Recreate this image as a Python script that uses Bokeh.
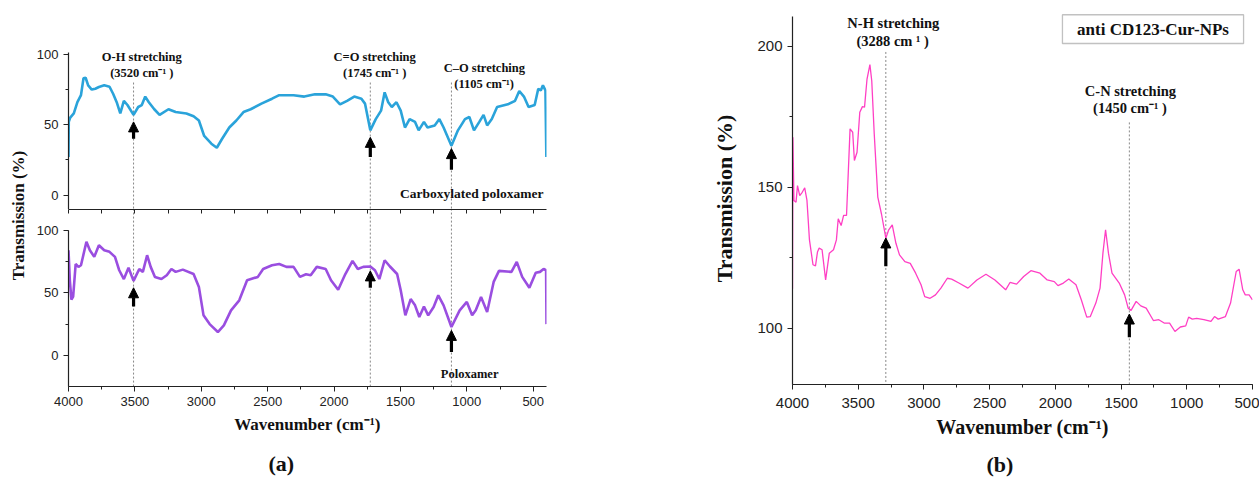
from math import pi
from bokeh.plotting import figure
from bokeh.layouts import row, column
from bokeh.models import (Range1d, LinearAxis, SingleIntervalTicker, FixedTicker, Arrow, NormalHead,
                          Label, BoxAnnotation, Title)
from bokeh.core.properties import value
from bokeh.embed import file_html
from bokeh.resources import INLINE

SERIF = "Liberation Serif"
SANS = "Liberation Sans"

# ---------------- data ----------------
carb_wn = [4000, 3998, 3987, 3960, 3933, 3906, 3887, 3871, 3852, 3825, 3798, 3771, 3731, 3691, 3664,
           3637, 3610, 3583, 3556, 3510, 3475, 3448, 3422, 3395, 3354, 3314, 3247, 3193, 3112, 3058,
           3018, 2978, 2924, 2883, 2843, 2789, 2736, 2682, 2628, 2547, 2467, 2413, 2359, 2305, 2224,
           2144, 2063, 2009, 1955, 1902, 1848, 1794, 1767, 1727, 1686, 1646, 1619, 1592, 1565, 1530,
           1498, 1466, 1431, 1390, 1363, 1323, 1296, 1242, 1207, 1175, 1116, 1067, 1014, 981, 946,
           906, 874, 847, 812, 772, 691, 637, 605, 570, 535, 489, 462, 443, 427, 408, 401]
carb_tr = [27, 52, 55, 58, 66, 71, 83, 83.4, 78, 75, 75.6, 76.8, 78, 77, 72,
           66, 58, 67, 64, 57, 62.6, 64, 70, 66, 61, 57, 61, 59, 58, 56,
           53, 42, 36.5, 33.6, 40, 48, 53, 59, 61, 65, 68.5, 71, 71, 71, 70,
           71.6, 71.6, 70, 64.5, 67, 70, 68.5, 65, 46, 54, 60, 73, 66, 62.6, 66,
           60, 48, 54, 52, 46, 52, 48, 49.5, 54, 48, 35, 46, 54, 55.5, 46,
           52, 57, 49.5, 54, 62.6, 64.5, 67, 74, 70, 62.6, 64, 75.6, 74.4, 78, 74.4, 27]

polo_wn = [4000, 3990, 3978, 3965, 3946, 3925, 3906, 3865, 3839, 3806, 3771, 3731, 3691, 3650, 3618,
           3583, 3548, 3510, 3467, 3440, 3408, 3381, 3349, 3300, 3260, 3225, 3193, 3139, 3058, 3018,
           2983, 2937, 2875, 2830, 2776, 2714, 2655, 2574, 2534, 2467, 2413, 2359, 2305, 2257, 2211,
           2176, 2130, 2063, 2023, 1969, 1915, 1861, 1821, 1780, 1727, 1692, 1659, 1619, 1579, 1525,
           1498, 1463, 1423, 1390, 1358, 1323, 1291, 1250, 1215, 1175, 1116, 1054, 1000, 960, 933,
           893, 847, 798, 758, 664, 624, 583, 529, 481, 449, 422, 403, 400]
polo_tr = [84, 60, 44.5, 47, 73, 70.7, 72, 90.7, 84, 78.7, 88, 84, 82.7, 78.7, 68,
           61, 70, 59.5, 69, 66.7, 80, 70.7, 62.7, 61, 64, 69, 66.7, 68.5, 65, 54.7,
           32, 25, 18.7, 24, 36, 44, 60, 62.7, 69, 72, 73, 70.7, 70.7, 62.7, 64.8,
           64, 70.7, 69, 60, 52.5, 65, 75.5, 69, 70.7, 71, 68, 61, 76, 71, 65,
           52, 32, 45, 40, 30.7, 39, 32, 38.7, 48, 40, 22.7, 36, 42.7, 32, 36,
           46.7, 34.7, 58.7, 67.5, 66.7, 74.7, 62.7, 54, 66, 66.7, 69, 68, 25]

np_wn = [4000, 3997, 3989, 3973, 3962, 3945, 3926, 3907, 3890, 3880, 3871, 3844, 3825, 3810, 3797,
         3775, 3748, 3720, 3688, 3666, 3652, 3630, 3611, 3589, 3562, 3542, 3529, 3509, 3488, 3468,
         3452, 3433, 3411, 3397, 3378, 3351, 3323, 3296, 3290, 3268, 3241, 3213, 3186, 3145, 3104,
         3063, 3022, 2994, 2953, 2912, 2871, 2822, 2789, 2734, 2665, 2597, 2528, 2460, 2378, 2345,
         2295, 2241, 2186, 2117, 2062, 2008, 1980, 1939, 1898, 1843, 1802, 1761, 1734, 1692, 1660,
         1638, 1618, 1596, 1569, 1514, 1473, 1446, 1424, 1385, 1350, 1309, 1254, 1213, 1172, 1131,
         1090, 1049, 1008, 986, 958, 925, 870, 816, 789, 761, 706, 667, 624, 602, 574,
         555, 526, 500]
np_tr = [114, 167.7, 145.3, 144.7, 150.6, 147, 148.2, 149.8, 145.3, 138, 131.3, 122.5, 122.1, 127, 128.4,
         127.8, 117.1, 126.6, 127.8, 131.3, 138.8, 136.4, 140, 140, 170.7, 169.5, 159.5, 162.4, 176.6, 178.6,
         178.4, 188.4, 193.5, 187.8, 168.9, 146.5, 140.5, 133.5, 131.9, 134.9, 136.6, 130.1, 126, 123.6, 123,
         119.5, 115.4, 111.2, 110.6, 111.8, 114.2, 117.7, 117.4, 116, 114.2, 117.1, 119.1, 117.1, 113.6, 116.2,
         115.6, 118.3, 120.4, 119.5, 117.1, 116.5, 115.1, 116, 117.4, 115.4, 110, 103.9, 104.1, 108.9, 114.2,
         126.6, 134.9, 126.6, 119.5, 116, 111.8, 107.1, 106.3, 109.5, 107.9, 107.1, 102.7, 103, 101.8, 101.8,
         98.8, 100.4, 100.8, 103.9, 103.2, 103.5, 103, 102.4, 104.1, 103.2, 104.1, 108.9, 120.1, 120.9, 113.6,
         111.8, 111.8, 110]

# marker lines / arrows, panel (a)
a_mark_wn = [3510, 1727, 1116]
a_top_arrow_tip = [52, 41, 33]
a_top_arrow_tail = [40, 27, 18]
a_bot_arrow_tip = [54, 67.5, 20]
a_bot_arrow_tail = [39, 54, 2.7]
a_line_top = 80

a_label_text = ["O-H stretching", "(3520 cm\u207b\u00b9 )", "C=O stretching", "(1745 cm\u207b\u00b9 )",
                "C\u2013O stretching", "(1105 cm\u207b\u00b9)"]
a_label_wn = [3448, 3448, 1694, 1694, 868, 870]
a_label_tr = [98, 86.7, 98, 86.7, 90.3, 79]

# divider tick positions between the two stacked spectra
divider_ticks = [500, 750, 1000, 1250, 1500, 1750, 2000, 2250, 2500, 2750, 3000, 3250, 3500, 3750, 4000]

# panel (b)
b_mark_wn = [3290, 1437]
b_line_top = [198, 173]
b_arrow_tip = [132, 105]
b_arrow_tail = [122, 96.8]
b_label_text = ["N-H stretching", "(3288 cm \u00b9 )", "C-N stretching", "(1450 cm\u207b\u00b9 )"]
b_label_wn = [3233, 3238, 1429, 1432]
b_label_tr = [208.2, 201.8, 184.3, 178.2]

BLUE = "#2aa3da"
PURPLE = "#9a4ee0"
PINK = "#ff3fc4"
AXC = "#222222"


def style_axis(ax, size):
    ax.major_label_text_font = SANS
    ax.major_label_text_font_size = size
    ax.major_label_text_color = AXC
    ax.axis_line_color = AXC
    ax.axis_line_width = 1.2
    ax.major_tick_line_color = AXC
    ax.minor_tick_line_color = AXC
    ax.major_tick_out = 5
    ax.major_tick_in = 0
    ax.minor_tick_out = 3
    ax.minor_tick_in = 0
    ax.major_label_standoff = 5
    ax.axis_label_text_font = SERIF
    ax.axis_label_text_font_style = "bold"
    ax.axis_label_text_color = "#111111"


def base_fig(**kw):
    p = figure(output_backend="svg", toolbar_location=None, title=None, **kw)
    p.grid.visible = False
    p.outline_line_color = None
    p.background_fill_color = "white"
    p.border_fill_color = "white"
    return p


def add_arrows(p, xs, tails, tips):
    for x, t0, t1 in zip(xs, tails, tips):
        p.add_layout(Arrow(end=NormalHead(size=10, fill_color="black", line_color="black", line_width=1),
                           x_start=x, y_start=t0, x_end=x, y_end=t1,
                           line_color="black", line_width=3.2))


# ---------------- panel (a) ----------------
xr_a = Range1d(4000, 400)

ylab = base_fig(width=30, height=490, x_range=Range1d(0, 30), y_range=Range1d(490, 0),
                x_axis_location=None, y_axis_location=None, min_border=0)
ylab.add_layout(Label(x=18, y=215, text="Transmission (%)", angle=pi / 2, text_align="center",
                      text_baseline="middle", text_font=SERIF, text_font_style="bold",
                      text_font_size="17px", text_color="#111111"))

top = base_fig(width=530, height=209, x_range=xr_a, y_range=Range1d(-10.3, 117),
               x_axis_location=None, min_border_left=38, min_border_right=14,
               min_border_top=30, min_border_bottom=0)
top.yaxis.ticker = SingleIntervalTicker(interval=50, num_minor_ticks=2)
top.yaxis.bounds = (-10.3, 101)
style_axis(top.yaxis[0], "13px")
top.segment(x0=a_mark_wn, y0=[a_line_top] * 3, x1=a_mark_wn, y1=[-20] * 3,
            line_color="#888888", line_dash="2 2", line_width=1)
top.line(carb_wn, carb_tr, line_color=BLUE, line_width=2.6)
add_arrows(top, a_mark_wn, a_top_arrow_tail, a_top_arrow_tip)
top.text(x=a_label_wn, y=a_label_tr, text=a_label_text, text_font=value(SERIF),
         text_font_style="bold", text_font_size="12.5px", text_align="center",
         text_baseline="middle", text_color="#111111")
top.text(x=[422], y=[1.4], text=["Carboxylated poloxamer"], text_font=value(SERIF),
         text_font_style="bold", text_font_size="13.5px", text_align="right",
         text_baseline="middle", text_color="#111111")

bot = base_fig(width=530, height=281, x_range=xr_a, y_range=Range1d(-24.8, 116.5),
               min_border_left=38, min_border_right=14, min_border_top=0, min_border_bottom=104)
bot.yaxis.ticker = SingleIntervalTicker(interval=50, num_minor_ticks=2)
bot.yaxis.bounds = (-24.8, 100)
style_axis(bot.yaxis[0], "13px")
bx = bot.below[0]
bx.ticker = SingleIntervalTicker(interval=500, num_minor_ticks=2)
style_axis(bx, "13px")
bx.axis_label = "Wavenumber (cm\u207b\u00b9)"
bx.axis_label_text_font_size = "17px"
bx.axis_label_standoff = 6
# divider line between the two spectra: ticks only, no labels
above = LinearAxis(ticker=FixedTicker(ticks=[], minor_ticks=divider_ticks))
style_axis(above, "13px")
above.major_label_standoff = 0
above.major_tick_out = 0
above.major_tick_in = 0
above.minor_tick_out = 0
above.minor_tick_in = 4
bot.add_layout(above, "above")
bot.segment(x0=a_mark_wn, y0=[130] * 3, x1=a_mark_wn, y1=[-30] * 3,
            line_color="#888888", line_dash="2 2", line_width=1)
bot.line(polo_wn, polo_tr, line_color=PURPLE, line_width=2.6)
add_arrows(bot, a_mark_wn, a_bot_arrow_tail, a_bot_arrow_tip)
bot.text(x=[979], y=[-15.2], text=["Poloxamer"], text_font=value(SERIF),
         text_font_style="bold", text_font_size="12.5px", text_align="center",
         text_baseline="middle", text_color="#111111")
bot.add_layout(Title(text="(a)", align="left", offset=200, standoff=25, text_font=SERIF,
                     text_font_style="bold", text_font_size="22px", text_color="#111111"), "below")

panel_a = row(ylab, column(top, bot))

# ---------------- panel (b) ----------------
rf = base_fig(width=699, height=490, x_range=Range1d(4000, 500), y_range=Range1d(80, 212),
              min_border_left=232, min_border_right=7, min_border_top=12, min_border_bottom=106)
rf.yaxis.ticker = SingleIntervalTicker(interval=50, num_minor_ticks=2)
rf.yaxis.bounds = (80, 210.5)
rf.xaxis.ticker = SingleIntervalTicker(interval=500, num_minor_ticks=2)
style_axis(rf.yaxis[0], "15px")
style_axis(rf.xaxis[0], "15px")
rf.xaxis.major_label_standoff = 8
rf.xaxis.axis_label = "Wavenumber (cm\u207b\u00b9)"
rf.xaxis.axis_label_text_font_size = "20px"
rf.xaxis.axis_label_standoff = 5
rf.yaxis.axis_label = "Transmission (%)"
rf.yaxis.axis_label_text_font_size = "22px"
rf.yaxis.axis_label_standoff = 17
rf.segment(x0=b_mark_wn, y0=b_line_top, x1=b_mark_wn, y1=[70, 70],
           line_color="#888888", line_dash="2 2", line_width=1)
rf.line(np_wn, np_tr, line_color=PINK, line_width=1.3)
add_arrows(rf, b_mark_wn, b_arrow_tail, b_arrow_tip)
rf.text(x=b_label_wn, y=b_label_tr, text=b_label_text, text_font=value(SERIF),
        text_font_style="bold", text_font_size="14.5px", text_align="center",
        text_baseline="middle", text_color="#111111")
rf.add_layout(BoxAnnotation(left=1946, right=568, bottom=201, top=211.2, fill_alpha=0,
                            line_color="#333333", line_width=1.3))
rf.text(x=[1257], y=[205.9], text=["anti CD123-Cur-NPs"], text_font=value(SERIF),
        text_font_style="bold", text_font_size="17px", text_align="center",
        text_baseline="middle", text_color="#111111")
rf.add_layout(Title(text="(b)", align="left", offset=194, standoff=18, text_font=SERIF,
                    text_font_style="bold", text_font_size="22px", text_color="#111111"), "below")

layout = row(panel_a, rf)

open("out.html", "w").write(file_html(layout, INLINE))
